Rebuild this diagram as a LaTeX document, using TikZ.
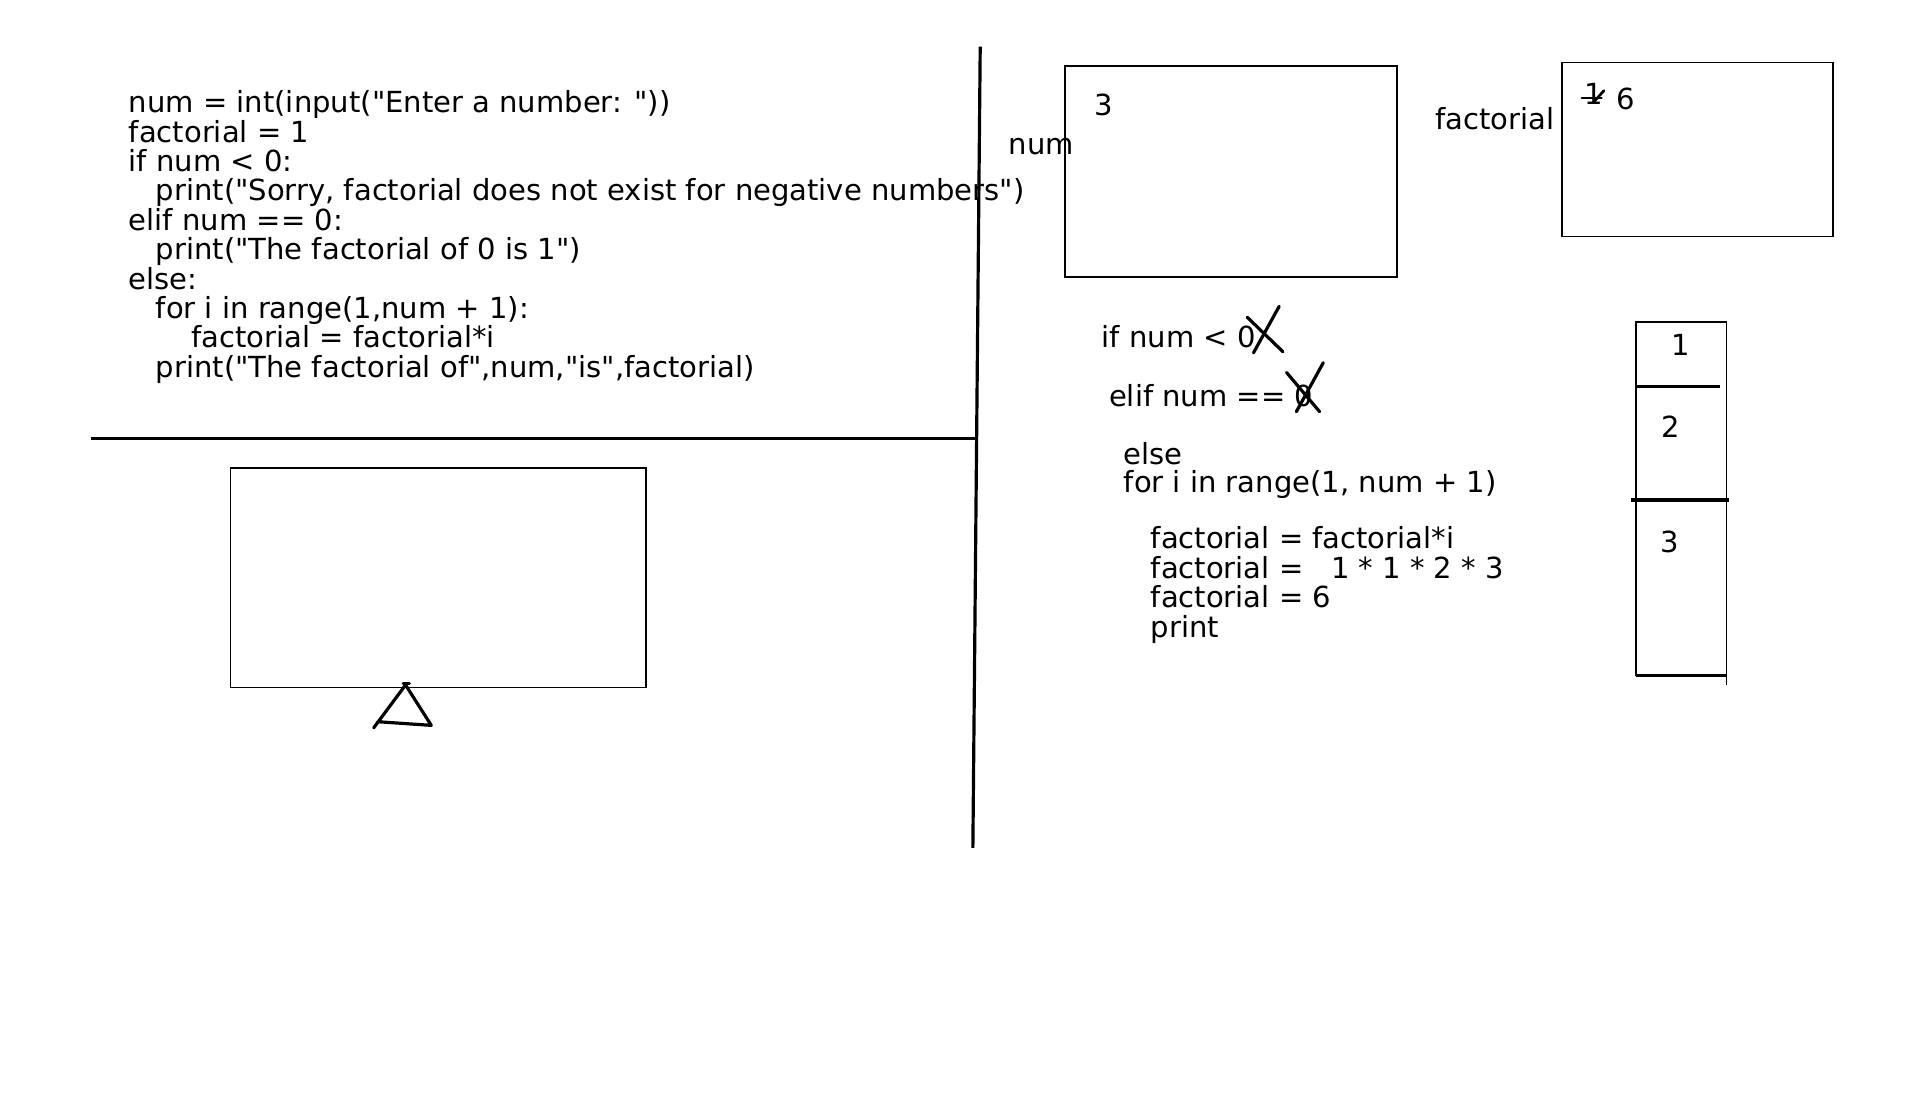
\documentclass[tikz,border=0pt]{standalone}
\usepackage{fontspec}
\newfontfamily\codefont{DejaVu Sans}
\begin{document}
\begin{tikzpicture}[x=1pt,y=-1pt,
  txt/.style={inner sep=0pt, anchor=base west, font=\codefont\fontsize{23.7}{24}\selectfont},
  boxline/.style={line width=1.3pt},
  penline/.style={line width=2.6pt, line cap=round, line join=round},
  membox/.style={draw, boxline, inner sep=0pt}]
\useasboundingbox (0,0) rectangle (1567,900.2);
% dividers
\coordinate (vt) at (800,38);
\coordinate (vb) at (794,692);
\coordinate (hl) at (74,358);
\coordinate (hr) at (797,358);
\draw[penline, line cap=butt] (vt) -- (vb);
\draw[penline, line cap=butt] (hl) -- (hr);
% left code
\node[txt] (c1) at (105,92) {num = int(input("Enter a number: "))};
\node[txt] (c2) at (105,116) {factorial = 1};
\node[txt] (c3) at (105,140) {if num < 0:};
\node[txt] (c4) at (127,164) {print("Sorry, factorial does not exist for negative numbers")};
\node[txt] (c5) at (105,188) {elif num == 0:};
\node[txt] (c6) at (127,212) {print("The factorial of 0 is 1")};
\node[txt] (c7) at (105,236) {else:};
\node[txt] (c8) at (127,260) {for i in range(1,num + 1):};
\node[txt] (c9) at (156,284) {factorial = factorial*i};
\node[txt] (c10) at (127,308) {print("The factorial of",num,"is",factorial)};
% output box and triangle
\node[membox, minimum width=339pt, minimum height=179pt] (out) at (357.5,471.5) {};
\draw[penline] (305,594) -- (331,559) -- (352,592) -- (308,589);
\draw[penline] (329,558) -- (334,558);
% num box
\node[membox, minimum width=271pt, minimum height=172pt] (numbox) at (1004.5,140) {};
\node[txt] (numval) at (893,94) {3};
\node[txt] (numlbl) at (823,126) {num};
% factorial box
\node[membox, minimum width=221pt, minimum height=142pt] (factbox) at (1385.5,122) {};
\node[txt] (factlbl) at (1171,106) {factorial};
\node[txt] (oldval) at (1293,85) {1};
\node[txt] (newval) at (1319,89.5) {6};
\draw[penline, line width=2.2pt] (1291,80) -- (1307,80);
\draw[penline, line width=2.2pt] (1300,84) -- (1309,74);
% right code
\node[txt] (r1) at (899,284) {if num < 0};
\draw[penline] (1018,259) -- (1047,287);
\draw[penline] (1044,250) -- (1023,288);
\node[txt] (r2) at (905,332) {elif num == 0};
\draw[penline] (1050,304) -- (1077,336);
\draw[penline] (1080,296) -- (1058,336);
\node[txt] (r3) at (917,379) {else};
\node[txt] (r4) at (917,402) {for i in range(1, num + 1)};
\node[txt] (r5) at (939,448) {factorial = factorial*i};
\node[txt] (r6) at (939,472) {factorial =\ \ \ 1 * 1 * 2 * 3};
\node[txt] (r7) at (939,496) {factorial = 6};
\node[txt] (r8) at (939,520) {print};
% stack
\draw[boxline] (1335,552) -- (1335,263) -- (1409,263) -- (1409,559);
\draw[penline, line cap=butt] (1335,315.5) -- (1404,315.5);
\draw[penline, line cap=butt] (1331,408) -- (1411,408);
\draw[penline, line cap=butt] (1335,551) -- (1409,551);
\node[txt] (s1) at (1364,290) {1};
\node[txt] (s2) at (1356,357) {2};
\node[txt] (s3) at (1355,451) {3};
\end{tikzpicture}
\end{document}
